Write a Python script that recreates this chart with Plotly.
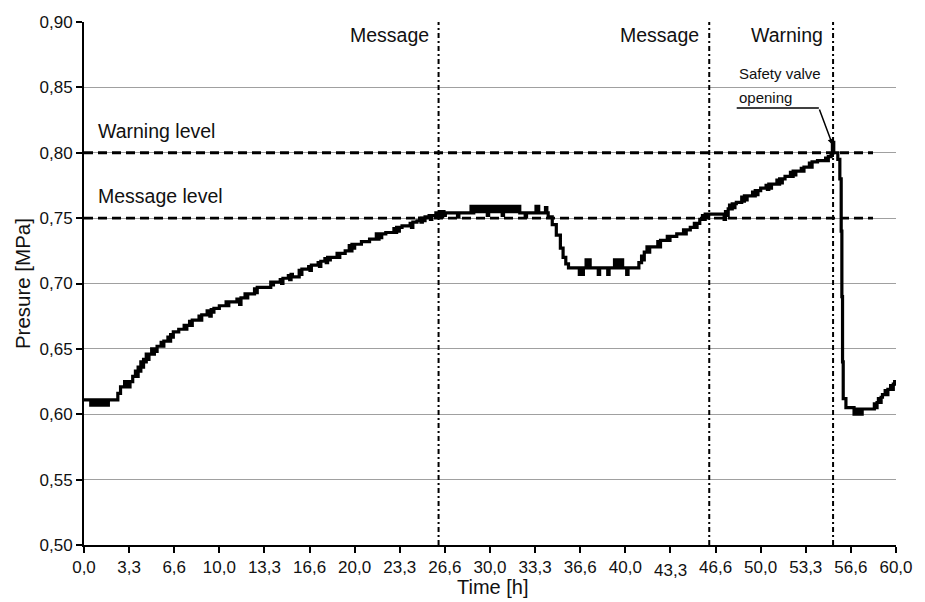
import plotly.graph_objects as go

# ---------------- data: (time [h], pressure [MPa]) ----------------
PHASE_START_RISE = [
    (0.0, .611), (0.4, .611), (0.5, .607), (0.6, .611), (0.8, .607), (0.9, .611),
    (1.1, .607), (1.2, .611), (1.4, .607), (1.5, .611), (1.7, .607), (1.8, .611),
    (2.5, .616), (2.7, .621), (3.0, .625), (3.1, .621), (3.2, .625), (3.3, .621),
    (3.4, .625), (3.6, .629), (3.8, .633), (3.9, .629), (4.0, .636), (4.1, .633),
    (4.2, .640), (4.3, .636), (4.4, .642), (4.5, .640), (4.6, .646), (4.7, .642),
    (4.8, .646), (5.0, .650), (5.1, .646), (5.2, .650), (5.3, .648), (5.4, .652),
    (5.7, .655), (5.8, .652), (5.9, .656), (6.2, .659), (6.3, .656), (6.4, .661),
    (6.5, .659), (6.6, .663), (7.0, .665), (7.4, .668), (7.5, .665), (7.6, .668),
    (7.8, .671), (7.9, .668), (8.0, .672), (8.5, .675), (8.6, .672), (8.7, .676),
    (9.1, .679), (9.3, .675), (9.4, .680), (9.5, .678), (9.6, .681), (10.0, .683),
    (10.5, .686), (10.6, .683), (10.7, .686), (11.3, .688), (11.5, .684), (11.6, .689),
    (11.9, .692), (12.0, .689), (12.1, .692), (12.6, .696), (12.7, .693), (12.8, .697),
    (13.7, .697), (13.8, .701), (13.9, .699), (14.0, .701), (14.5, .703), (14.6, .700),
    (14.7, .704), (15.1, .706), (15.2, .703), (15.3, .707), (15.4, .705), (15.9, .710),
    (16.0, .707), (16.1, .711), (16.6, .713), (16.7, .710), (16.8, .714), (17.3, .716),
    (17.4, .713), (17.5, .717), (17.8, .719), (17.9, .716), (18.0, .720), (18.1, .718),
    (18.2, .720), (18.7, .723), (18.8, .720), (18.9, .723), (19.3, .725), (19.6, .729),
    (19.7, .725), (19.8, .730), (19.9, .727), (20.0, .730), (20.5, .732), (21.1, .734),
    (21.6, .738), (21.7, .734), (21.8, .738), (21.9, .735), (22.0, .738), (22.3, .739),
    (22.9, .742), (23.0, .739), (23.1, .743), (23.2, .740), (23.3, .743), (23.5, .744),
    (24.1, .746), (24.2, .743), (24.3, .747), (24.6, .748), (24.8, .750), (24.9, .747),
    (25.0, .750), (25.1, .748), (25.2, .751), (25.5, .752), (25.6, .749), (25.7, .752),
]
PHASE_PLATEAU = [
    (26.0, .754), (26.2, .751), (26.3, .755), (26.4, .751), (26.5, .755), (26.6, .752),
    (26.7, .754), (27.5, .754), (27.6, .751), (27.7, .754), (28.5, .754), (28.6, .759),
    (28.7, .754), (28.8, .759), (29.0, .755), (29.2, .759), (29.4, .755), (29.6, .759),
    (29.8, .752), (29.9, .759), (30.1, .755), (30.3, .759), (30.5, .755), (30.7, .759),
    (30.9, .752), (31.0, .759), (31.2, .755), (31.4, .759), (31.6, .755), (31.8, .759),
    (32.0, .755), (32.1, .759), (32.2, .754), (32.6, .751), (32.7, .754), (33.4, .759),
    (33.6, .754), (34.0, .754), (34.1, .758), (34.2, .754),
]
PHASE_DIP = [
    (34.3, .751), (34.6, .745), (34.9, .737), (35.2, .727), (35.4, .720), (35.6, .715),
    (35.8, .712), (36.6, .707), (36.7, .712), (36.8, .707), (36.9, .712), (37.1, .718),
    (37.2, .712), (37.3, .718), (37.4, .712), (38.0, .707), (38.1, .712), (38.7, .707),
    (38.8, .712), (39.2, .718), (39.3, .712), (39.4, .718), (39.6, .712), (39.7, .718),
    (39.8, .712), (40.1, .707), (40.2, .712), (40.9, .712),
]
PHASE_RECOVERY = [
    (41.0, .716), (41.2, .721), (41.3, .718), (41.4, .724), (41.6, .728), (41.7, .724),
    (41.8, .728), (42.4, .732), (42.5, .728), (42.6, .733), (43.1, .736), (43.2, .733),
    (43.3, .736), (43.8, .738), (44.3, .741), (44.4, .738), (44.5, .741), (44.8, .743),
    (45.1, .746), (45.2, .743), (45.3, .746), (45.5, .749), (45.7, .752), (45.8, .749),
    (45.9, .753), (46.0, .751), (46.1, .753), (47.1, .753), (47.3, .749), (47.4, .755),
    (47.5, .752), (47.6, .757), (47.7, .760), (47.8, .757), (47.9, .761), (48.0, .758),
    (48.1, .761), (48.2, .762), (48.6, .766), (48.7, .763), (48.8, .767), (48.9, .764),
    (49.0, .767), (49.4, .770), (49.5, .767), (49.6, .771), (49.7, .768), (49.8, .771),
    (50.0, .773), (50.4, .775), (50.5, .772), (50.6, .776), (50.7, .773), (50.8, .776),
    (51.2, .779), (51.3, .776), (51.4, .780), (51.5, .777), (51.6, .780), (51.8, .782),
    (52.2, .785), (52.3, .782), (52.4, .786), (52.5, .783), (52.6, .786), (53.0, .788),
    (53.1, .786), (53.2, .789), (53.6, .792), (53.7, .789), (53.8, .793), (54.2, .794),
    (54.8, .796), (54.9, .794), (55.0, .797), (55.2, .798),
]
PHASE_RELIEF = [
    (55.3, .808), (55.4, .800), (55.7, .795), (55.85, .780), (55.95, .740), (56.0, .690),
    (56.05, .640), (56.1, .612), (56.3, .605), (56.8, .605), (56.9, .600), (57.0, .604),
    (57.1, .600), (57.3, .604), (57.4, .600), (57.5, .604), (58.2, .604), (58.4, .608),
    (58.5, .605), (58.6, .609), (58.7, .612), (58.8, .609), (58.9, .613), (59.0, .615),
    (59.2, .618), (59.3, .615), (59.4, .619), (59.6, .622), (59.7, .619), (59.8, .623),
    (59.9, .625), (60.0, .625),
]

WARNING_LEVEL = 0.80
MESSAGE_LEVEL = 0.75
LEVEL_LINE_END_H = 58.3
LEVEL_LABELS = ["Warning level", "Message level"]

EVENT_TIMES_H = [26.2, 46.2, 55.35]
EVENT_LABELS = ["Message", "Message", "Warning"]

X_TICK_LABELS = ["0,0", "3,3", "6,6", "10,0", "13,3", "16,6", "20,0", "23,3", "26,6",
                 "30,0", "33,3", "36,6", "40,0", "43,3", "46,6", "50,0", "53,3", "56,6", "60,0"]
Y_TICK_VALUES = [0.50, 0.55, 0.60, 0.65, 0.70, 0.75, 0.80, 0.85, 0.90]
Y_TICK_LABELS = ["0,50", "0,55", "0,60", "0,65", "0,70", "0,75", "0,80", "0,85", "0,90"]

SAFETY_TEXT = ["Safety valve", "opening"]
SAFETY_POINT = (55.32, 0.806)      # arrow tip (time, pressure)
SAFETY_KNEE = (54.3, 0.8343)       # bend of leader line
SAFETY_START = (48.23, 0.8343)     # start of leader line

# ---------------- figure ----------------
FONT = "Liberation Sans, Arial, sans-serif"
X_MAX = 60.0
samples = PHASE_START_RISE + PHASE_PLATEAU + PHASE_DIP + PHASE_RECOVERY + PHASE_RELIEF
time_h = [s[0] for s in samples]
pressure = [s[1] for s in samples]

x_tick_pos = [i * X_MAX / (len(X_TICK_LABELS) - 1) for i in range(len(X_TICK_LABELS))]
LOWERED_TICK = "43,3"
x_tick_text = ["" if t == LOWERED_TICK else t for t in X_TICK_LABELS]

fig = go.Figure()
fig.add_trace(go.Scatter(
    x=time_h, y=pressure, mode="lines",
    line=dict(color="black", width=3.2, shape="hv"),
    showlegend=False, hoverinfo="x+y",
))

shapes = []
for lvl in (WARNING_LEVEL, MESSAGE_LEVEL):
    shapes.append(dict(type="line", xref="x", yref="y", x0=0, x1=LEVEL_LINE_END_H,
                       y0=lvl, y1=lvl, line=dict(color="black", width=2.8, dash="9px,5px")))
for t in EVENT_TIMES_H:
    shapes.append(dict(type="line", xref="x", yref="y", x0=t, x1=t, y0=0.5, y1=0.9,
                       line=dict(color="black", width=2, dash="5px,3px,2px,3px")))
shapes.append(dict(type="line", xref="x", yref="y",
                   x0=SAFETY_START[0], y0=SAFETY_START[1], x1=SAFETY_KNEE[0], y1=SAFETY_KNEE[1],
                   line=dict(color="black", width=1.5)))

annotations = []
for t, lab in zip(EVENT_TIMES_H, EVENT_LABELS):
    annotations.append(dict(x=t, y=0.890, xref="x", yref="y", text=lab, showarrow=False,
                            xanchor="right", yanchor="middle", xshift=-8,
                            font=dict(family=FONT, size=19.5, color="#111")))
for lvl, lab in zip((WARNING_LEVEL, MESSAGE_LEVEL), LEVEL_LABELS):
    annotations.append(dict(x=0.85, y=lvl + 0.0167, xref="x", yref="y", text=lab,
                            showarrow=False, xanchor="left", yanchor="middle",
                            font=dict(family=FONT, size=19.5, color="#111")))
annotations.append(dict(x=SAFETY_START[0], y=0.8603, xref="x", yref="y", text=SAFETY_TEXT[0],
                        showarrow=False, xanchor="left", yanchor="middle",
                        font=dict(family=FONT, size=15, color="#111")))
annotations.append(dict(x=SAFETY_START[0], y=0.8420, xref="x", yref="y", text=SAFETY_TEXT[1],
                        showarrow=False, xanchor="left", yanchor="middle",
                        font=dict(family=FONT, size=15, color="#111")))
annotations.append(dict(x=SAFETY_POINT[0], y=SAFETY_POINT[1], xref="x", yref="y",
                        ax=SAFETY_KNEE[0], ay=SAFETY_KNEE[1], axref="x", ayref="y",
                        text="", showarrow=True, arrowhead=2, arrowsize=0.8,
                        arrowwidth=1.5, arrowcolor="black", standoff=0))
annotations.append(dict(x=x_tick_pos[X_TICK_LABELS.index(LOWERED_TICK)], y=0, xref="x",
                        yref="paper", text=LOWERED_TICK, showarrow=False,
                        xanchor="center", yanchor="top", yshift=-14,
                        font=dict(family=FONT, size=17, color="#111")))
annotations.append(dict(x=0.5, y=-0.080, xref="paper", yref="paper", text="Time [h]",
                        showarrow=False, xanchor="center", yanchor="middle", xshift=3,
                        font=dict(family=FONT, size=20, color="#111")))
annotations.append(dict(x=-0.0756, y=0.5, xref="paper", yref="paper", text="Presure [MPa]",
                        showarrow=False, xanchor="center", yanchor="middle", textangle=-90,
                        font=dict(family=FONT, size=20.5, color="#111")))

fig.update_layout(
    width=925, height=602,
    margin=dict(l=84, r=21, t=22, b=57),
    paper_bgcolor="white", plot_bgcolor="white",
    font=dict(family=FONT, size=17, color="#111"),
    shapes=shapes, annotations=annotations,
    showlegend=False,
)
fig.update_xaxes(
    range=[0, X_MAX], tickvals=x_tick_pos, ticktext=x_tick_text,
    showgrid=False, zeroline=False, showline=True, linecolor="black", linewidth=2,
    ticks="outside", ticklen=6, tickwidth=2, tickcolor="black",
    tickfont=dict(family=FONT, size=17, color="#111"),
)
fig.update_yaxes(
    range=[0.5, 0.9], tickvals=Y_TICK_VALUES, ticktext=Y_TICK_LABELS,
    showgrid=True, gridcolor="#a0a0a0", gridwidth=1,
    zeroline=False, showline=True, linecolor="black", linewidth=2,
    ticks="outside", ticklen=6, tickwidth=2, tickcolor="black",
    tickfont=dict(family=FONT, size=17, color="#111"),
)

POST_JS = ("document.body.style.margin='0';"
           "document.body.style.overflow='hidden';"
           "document.documentElement.style.overflow='hidden';")
fig.write_html("out.html", post_script=POST_JS, config={"displayModeBar": False})
